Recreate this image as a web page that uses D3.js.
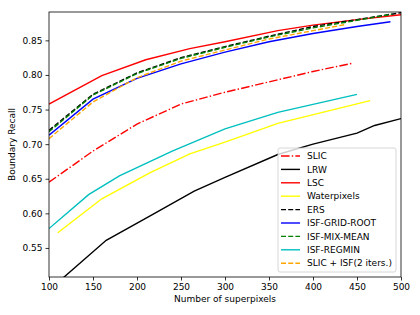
<!DOCTYPE html>
<html>
<head>
<meta charset="utf-8">
<script src="https://cdn.jsdelivr.net/npm/d3@7"></script>
<style>
  body { margin: 0; background: #fff; }
  text { font-family: "DejaVu Sans", sans-serif; }
</style>
</head>
<body>
<script>
// boundary recall vs number of superpixels
var slic      = [[100,0.645],[150,0.690],[200,0.729],[250,0.758],[300,0.775],[350,0.790],[400,0.805],[445,0.817]];
var lrw       = [[100,0.489],[165,0.561],[220,0.600],[265,0.632],[300,0.652],[360,0.685],[400,0.700],[450,0.716],[470,0.727],[500,0.737]];
var lsc       = [[100,0.758],[160,0.799],[210,0.822],[260,0.838],[300,0.848],[360,0.864],[400,0.872],[450,0.880],[500,0.887]];
var waterpix  = [[110,0.572],[160,0.621],[215,0.659],[260,0.686],[300,0.703],[360,0.730],[465,0.763]];
var ers       = [[100,0.720],[150,0.772],[200,0.803],[250,0.825],[300,0.841],[350,0.856],[400,0.870],[450,0.880],[500,0.890]];
var gridRoot  = [[100,0.713],[150,0.765],[200,0.795],[250,0.816],[300,0.833],[350,0.848],[400,0.860],[450,0.870],[488,0.877]];
var mixMean   = [[100,0.718],[150,0.771],[200,0.802],[250,0.824],[300,0.840],[350,0.855],[400,0.868],[450,0.879],[490,0.888]];
var regmin    = [[100,0.578],[145,0.627],[180,0.654],[240,0.690],[300,0.722],[360,0.746],[450,0.772]];
var slicIsf   = [[100,0.708],[150,0.761],[200,0.796],[250,0.820],[300,0.836],[350,0.852],[400,0.864],[437,0.873]];

var xTicks = [100,150,200,250,300,350,400,450,500];
var yTicks = [0.55,0.60,0.65,0.70,0.75,0.80,0.85];

// name, data, colour, dash
var series = [
  ["SLIC", slic, "#ff0000", "8.6,2.2,1.4,2.2"],
  ["LRW", lrw, "#000000", null],
  ["LSC", lsc, "#ff0000", null],
  ["Waterpixels", waterpix, "#ffff00", null],
  ["ERS", ers, "#000000", "5,2.2"],
  ["ISF-GRID-ROOT", gridRoot, "#0000ff", null],
  ["ISF-MIX-MEAN", mixMean, "#008000", "5,2.2"],
  ["ISF-REGMIN", regmin, "#00bfbf", null],
  ["SLIC + ISF(2 iters.)", slicIsf, "#ffa500", "5,2.2"]
];

var svgWidth = 420, svgHeight = 315;
var plotLeft = 49, plotRight = 401, plotTop = 12, plotBottom = 277;

var svg = d3.select("body").append("svg")
  .attr("width", svgWidth)
  .attr("height", svgHeight);

var xScale = d3.scaleLinear().domain([100, 500]).range([plotLeft, plotRight]);
var yScale = d3.scaleLinear().domain([0.508, 0.891]).range([plotBottom, plotTop]);

svg.append("clipPath").attr("id", "plotclip")
  .append("rect")
  .attr("x", plotLeft).attr("y", plotTop)
  .attr("width", plotRight - plotLeft).attr("height", plotBottom - plotTop);

var line = d3.line()
  .x(d => xScale(d[0]))
  .y(d => yScale(d[1]));

var plot = svg.append("g").attr("clip-path", "url(#plotclip)");
series.forEach(function(s) {
  plot.append("path")
    .datum(s[1])
    .attr("d", line)
    .attr("fill", "none")
    .attr("stroke", s[2])
    .attr("stroke-width", 1.4)
    .attr("stroke-dasharray", s[3]);
});

// axes
var xAxis = svg.append("g")
  .attr("transform", `translate(0, ${plotBottom})`)
  .call(d3.axisBottom(xScale).tickValues(xTicks).tickSize(3.5).tickPadding(3));
var yAxis = svg.append("g")
  .attr("transform", `translate(${plotLeft}, 0)`)
  .call(d3.axisLeft(yScale).tickValues(yTicks).tickFormat(d3.format(".2f")).tickSize(3.5).tickPadding(3));

[xAxis, yAxis].forEach(function(a) {
  a.select(".domain").remove();
  a.selectAll("text").attr("font-size", "9px").attr("fill", "#000")
    .style("font-family", "'DejaVu Sans', sans-serif");
  a.selectAll("line").attr("stroke", "#000").attr("stroke-width", 0.8);
});

// frame
svg.append("rect")
  .attr("x", plotLeft).attr("y", plotTop)
  .attr("width", plotRight - plotLeft).attr("height", plotBottom - plotTop)
  .attr("fill", "none")
  .attr("stroke", "#000")
  .attr("stroke-width", 0.8);

// axis titles
svg.append("text")
  .attr("x", (plotLeft + plotRight) / 2)
  .attr("y", 302)
  .attr("text-anchor", "middle")
  .attr("font-size", "9px")
  .text("Number of superpixels");

svg.append("text")
  .attr("transform", `translate(15, ${(plotTop + plotBottom) / 2}) rotate(-90)`)
  .attr("text-anchor", "middle")
  .attr("font-size", "9px")
  .text("Boundary Recall");

// legend
var lg = svg.append("g").attr("transform", "translate(278, 148)");
lg.append("rect")
  .attr("width", 118).attr("height", 124)
  .attr("rx", 2)
  .attr("fill", "#fff").attr("fill-opacity", 0.8)
  .attr("stroke", "#ccc").attr("stroke-width", 0.8);

series.forEach(function(s, i) {
  var y = 8 + i * 13.4;
  lg.append("line")
    .attr("x1", 3).attr("x2", 22)
    .attr("y1", y).attr("y2", y)
    .attr("stroke", s[2])
    .attr("stroke-width", 1.4)
    .attr("stroke-dasharray", s[3]);
  lg.append("text")
    .attr("x", 29).attr("y", y + 3.2)
    .attr("font-size", "9px")
    .text(s[0]);
});
</script>
</body>
</html>
